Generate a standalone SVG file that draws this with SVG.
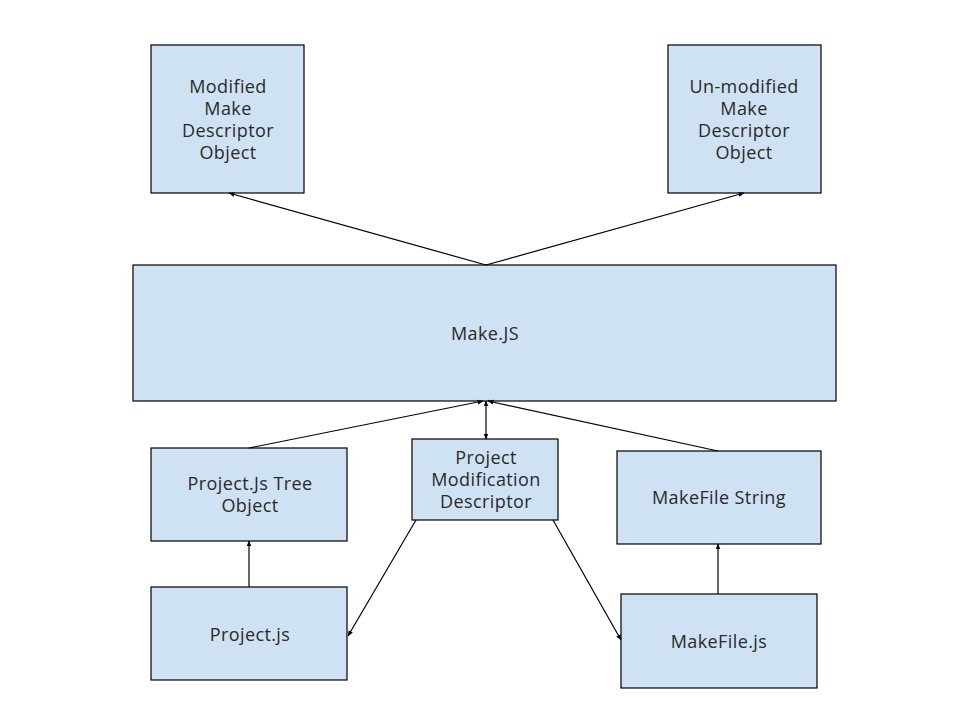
<svg xmlns="http://www.w3.org/2000/svg" width="960" height="720" viewBox="0 0 960 720">
<defs>
<marker id="ah" viewBox="0 0 10 10" refX="9" refY="5" markerWidth="6" markerHeight="6" orient="auto-start-reverse" markerUnits="userSpaceOnUse">
<path d="M0,1 L10,5 L0,9 z" fill="#000"/>
</marker>
<style>
.box{fill:#cfe2f3;stroke:#000;stroke-width:1.2}
.t{font-family:"Open Sans",Lato,"Liberation Sans",sans-serif;font-size:18px;letter-spacing:0.4px;fill:#2a2a2a;text-anchor:middle}
.c{stroke:#000;stroke-width:1.2;fill:none;marker-end:url(#ah)}
</style>
</defs>
<rect width="960" height="720" fill="#fff"/>
<g id="modified">
<rect class="box" x="151" y="45" width="153" height="148"/>
<text class="t" x="228" y="93">Modified</text>
<text class="t" x="228" y="115">Make</text>
<text class="t" x="228" y="137">Descriptor</text>
<text class="t" x="228" y="159">Object</text>
</g>
<g id="unmodified">
<rect class="box" x="668" y="45" width="153" height="148"/>
<text class="t" x="744" y="93">Un-modified</text>
<text class="t" x="744" y="115">Make</text>
<text class="t" x="744" y="137">Descriptor</text>
<text class="t" x="744" y="159">Object</text>
</g>
<g id="makejs">
<rect class="box" x="133" y="265" width="703" height="136"/>
<text class="t" x="485" y="340">Make.JS</text>
</g>
<g id="projtree">
<rect class="box" x="151" y="448" width="196" height="93"/>
<text class="t" x="250" y="490">Project.Js Tree</text>
<text class="t" x="250" y="512">Object</text>
</g>
<g id="pmd">
<rect class="box" x="412" y="439" width="146" height="81"/>
<text class="t" x="486" y="464">Project</text>
<text class="t" x="486" y="486">Modification</text>
<text class="t" x="486" y="508">Descriptor</text>
</g>
<g id="mfstring">
<rect class="box" x="617" y="451" width="204" height="93"/>
<text class="t" x="719" y="504">MakeFile String</text>
</g>
<g id="projectjs">
<rect class="box" x="151" y="587" width="196" height="93"/>
<text class="t" x="250" y="641">Project.js</text>
</g>
<g id="makefilejs">
<rect class="box" x="621" y="594" width="196" height="94"/>
<text class="t" x="719" y="648">MakeFile.js</text>
</g>
<g id="connectors">
<line class="c" x1="486" y1="265" x2="229" y2="193"/>
<line class="c" x1="486" y1="265" x2="744" y2="193"/>
<line class="c" x1="249" y1="448" x2="483" y2="401"/>
<line class="c" x1="718" y1="451" x2="488" y2="401"/>
<line class="c" x1="486" y1="401" x2="486" y2="439" style="marker-start:url(#ah)"/>
<line class="c" x1="249" y1="587" x2="249" y2="541"/>
<line class="c" x1="718" y1="594" x2="718" y2="544"/>
<line class="c" x1="416" y1="520" x2="348" y2="636"/>
<line class="c" x1="553" y1="520" x2="621" y2="640"/>
</g>
</svg>
